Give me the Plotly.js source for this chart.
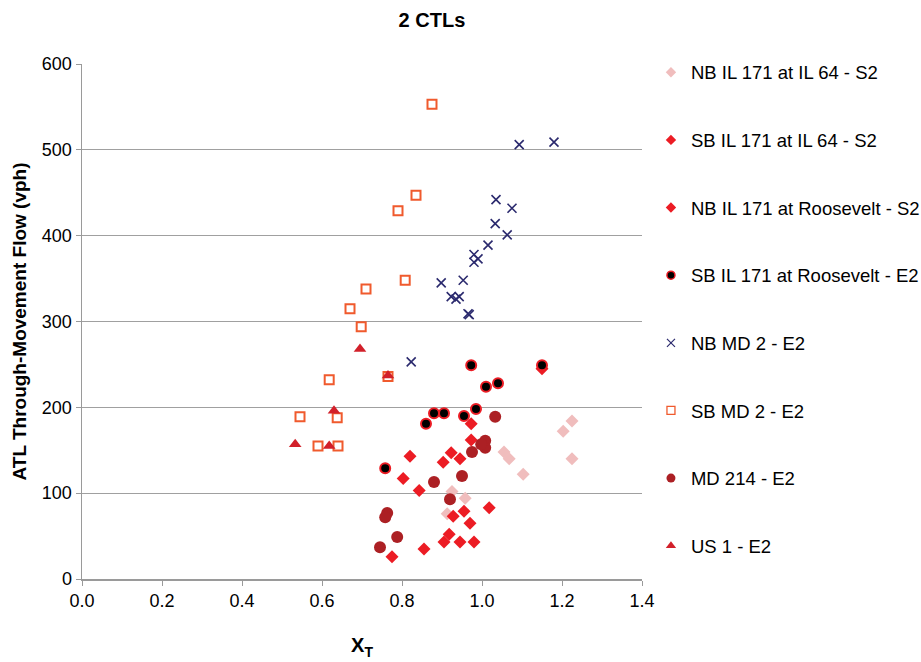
<!DOCTYPE html>
<html>
<head>
<meta charset="utf-8">
<script src="https://cdn.plot.ly/plotly-3.0.1.min.js"></script>
<style>html,body{margin:0;padding:0;background:#fff;}#chart{width:921px;height:662px;}</style>
</head>
<body>
<div id="chart"></div>
<script>
// Series names
const seriesNames = [
  "NB IL 171 at IL 64 - S2",
  "SB IL 171 at IL 64 - S2",
  "NB IL 171 at Roosevelt - S2",
  "SB IL 171 at Roosevelt - E2",
  "NB MD 2 - E2",
  "SB MD 2 - E2",
  "MD 214 - E2",
  "US 1 - E2"
];

// NB IL 171 at IL 64 - S2
const nbIL64_x = [1.225, 1.203, 1.225, 1.103, 1.055, 1.068, 0.925, 0.958, 0.913];
const nbIL64_y = [184, 172, 140, 122, 148, 140, 102, 94, 76];

// SB IL 171 at IL 64 - S2
const sbIL64_x = [1.018, 0.955, 0.928, 0.970, 0.918, 0.905, 0.945, 0.980, 0.855, 0.775];
const sbIL64_y = [83, 79, 73, 65, 52, 43, 43, 43, 35, 26];

// NB IL 171 at Roosevelt - S2
const nbRoo_x = [0.973, 0.973, 0.923, 0.820, 0.945, 0.903, 0.803, 0.843, 1.150];
const nbRoo_y = [181, 162, 147, 143, 140, 136, 117, 103, 245];

// SB IL 171 at Roosevelt - E2
const sbRoo_x = [0.973, 1.150, 1.010, 1.040, 0.880, 0.905, 0.955, 0.985, 0.860, 0.758];
const sbRoo_y = [249, 249, 224, 228, 193, 193, 190, 198, 181, 129];

// NB MD 2 - E2
const nbMD2_x = [1.093, 1.180, 1.035, 1.075, 1.033, 1.063, 1.015, 0.980, 0.990, 0.980, 0.953, 0.898, 0.923, 0.935, 0.943, 0.965, 0.968, 0.823];
const nbMD2_y = [506, 509, 442, 432, 414, 401, 389, 378, 373, 369, 348, 345, 329, 326, 329, 309, 308, 253];

// SB MD 2 - E2
const sbMD2_x = [0.875, 0.835, 0.790, 0.808, 0.710, 0.670, 0.698, 0.618, 0.765, 0.545, 0.638, 0.590, 0.640];
const sbMD2_y = [553, 447, 429, 348, 338, 315, 294, 232, 236, 189, 188, 155, 155];

// MD 214 - E2
const md214_x = [1.033, 1.008, 1.008, 0.998, 0.975, 0.950, 0.880, 0.920, 0.763, 0.758, 0.788, 0.745];
const md214_y = [189, 161, 153, 157, 148, 120, 113, 93, 77, 72, 49, 37];

// US 1 - E2
const us1_x = [0.695, 0.765, 0.630, 0.533, 0.618];
const us1_y = [268, 237, 196, 157, 155];

// Axis ticks
const xTickVals = [0, 0.2, 0.4, 0.6, 0.8, 1.0, 1.2, 1.4];
const xTickText = ["0.0", "0.2", "0.4", "0.6", "0.8", "1.0", "1.2", "1.4"];
const yTickVals = [0, 100, 200, 300, 400, 500, 600];

const xs = [nbIL64_x, sbIL64_x, nbRoo_x, sbRoo_x, nbMD2_x, sbMD2_x, md214_x, us1_x];
const ys = [nbIL64_y, sbIL64_y, nbRoo_y, sbRoo_y, nbMD2_y, sbMD2_y, md214_y, us1_y];

const symbols = ["diamond", "diamond", "diamond", "circle", "x-thin", "square-open", "circle", "triangle-up"];
const colors = ["#F0BDBD", "#EC1C24", "#EC1C24", "#000000", "#2B2A6E", "#F05A2D", "#AC2024", "#D2202A"];
const lineColors = ["#F0BDBD", "#EC1C24", "#EC1C24", "#EC1C24", "#2B2A6E", "#F05A2D", "#AC2024", "#D2202A"];
const plotSizes = [10, 10, 10, 10, 9, 9, 12, 11];
const plotLineW = [0, 0, 0, 2, 1.6, 2, 0, 0];
const legSizes = [8, 8, 8, 8, 8, 8, 9, 9];
const legLineW = [0, 0, 0, 1.5, 1.2, 1.3, 0, 0];

const traces = [];
seriesNames.forEach((name, i) => {
  traces.push({
    type: "scatter", mode: "markers", name: name,
    x: xs[i], y: ys[i],
    showlegend: false, cliponaxis: false,
    marker: {symbol: symbols[i], size: plotSizes[i], color: colors[i],
             line: {width: plotLineW[i], color: lineColors[i]}}
  });
});
// legend entries (smaller symbols, as in the reference legend)
seriesNames.forEach((name, i) => {
  traces.push({
    type: "scatter", mode: "markers", name: name,
    x: [null], y: [null],
    showlegend: true, legendgroup: "g" + i,
    marker: {symbol: symbols[i], size: legSizes[i], color: colors[i],
             line: {width: legLineW[i], color: lineColors[i]}}
  });
});

const layout = {
  width: 921,
  height: 662,
  paper_bgcolor: "#ffffff",
  plot_bgcolor: "#ffffff",
  font: {family: "Liberation Sans, Arial, sans-serif", size: 18, color: "#000"},
  margin: {l: 82, r: 279, t: 64, b: 83, pad: 0, autoexpand: false},
  title: {
    text: "<b>2 CTLs</b>",
    font: {family: "Liberation Sans, Arial, sans-serif", size: 20, color: "#000"},
    x: 0.469, xanchor: "center", y: 0.97, yanchor: "middle"
  },
  xaxis: {
    range: [0, 1.4],
    tickvals: xTickVals,
    ticktext: xTickText,
    showgrid: false,
    zeroline: false,
    showline: true,
    linecolor: "#9a9a9a",
    linewidth: 1.5,
    ticks: "outside",
    ticklen: 5,
    tickcolor: "#9a9a9a",
    tickfont: {size: 18},
    title: {text: "<b>X<sub>T</sub></b>", font: {size: 20}, standoff: 28}
  },
  yaxis: {
    range: [0, 600],
    tickvals: yTickVals,
    showgrid: true,
    gridcolor: "#a0a0a0",
    gridwidth: 1.2,
    zeroline: false,
    showline: true,
    linecolor: "#9a9a9a",
    linewidth: 1.5,
    ticks: "outside",
    ticklen: 5,
    tickcolor: "#9a9a9a",
    tickfont: {size: 18},
    title: {text: "<b>ATL Through-Movement Flow (vph)</b>", font: {size: 19}, standoff: 10}
  },
  legend: {
    x: 1.016, xanchor: "left",
    y: 1.02, yanchor: "top",
    traceorder: "grouped",
    tracegroupgap: 40.6,
    font: {size: 18.5},
    bgcolor: "rgba(0,0,0,0)",
    maxheight: 650
  },
  showlegend: true
};

Plotly.newPlot("chart", traces, layout, {displayModeBar: false, staticPlot: true});
</script>
</body>
</html>
